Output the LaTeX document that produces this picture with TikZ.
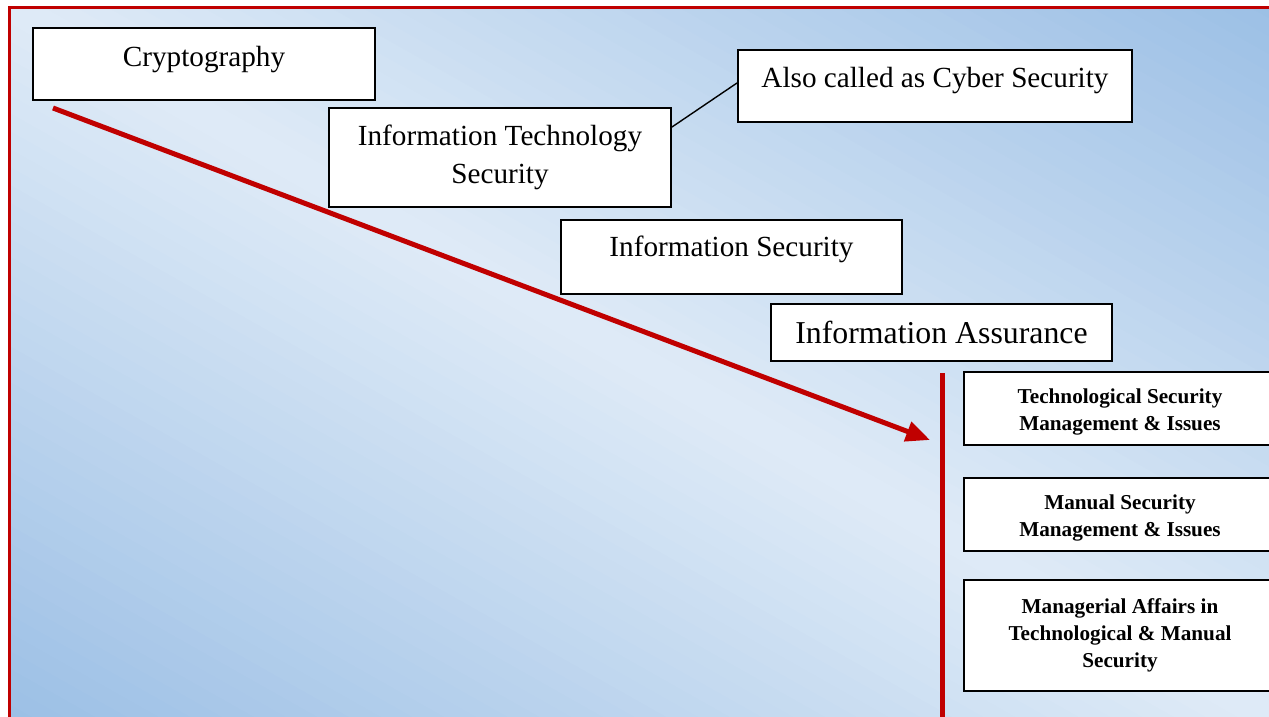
\documentclass[tikz,border=0pt]{standalone}
\usepackage{fontspec}
\setmainfont{Liberation Serif}
\usetikzlibrary{arrows.meta,calc}
\definecolor{dkred}{HTML}{C00000}
\definecolor{bgdark}{HTML}{9BBFE5}
\definecolor{bglight}{HTML}{DFEBF7}
\begin{document}
\begin{tikzpicture}[x=0.5pt,y=-0.5pt,
  box/.style={draw=black,line width=1pt,fill=white,inner sep=0pt,align=center},
  onebox/.style={draw=black,line width=1pt,fill=white,inner sep=0pt},
  normtxt/.style={font=\fontsize{14.6}{18.8}\selectfont},
  boldtxt/.style={font=\bfseries\fontsize{10.6}{13.6}\selectfont},
  redline/.style={draw=dkred,line width=2.5pt}]
\useasboundingbox (0,0) rectangle (1269,717);
\clip (0,0) rectangle (1269,717);
\fill[white] (0,0) rectangle (1269,717);
\begin{scope}
\clip (9,8) rectangle (1269,717);
\foreach \i in {-40,...,39}{
  \pgfmathsetmacro\sa{\i/40}
  \pgfmathsetmacro\sb{\sa+0.027}
  \pgfmathsetmacro\sc{\sa+1}
  \pgfmathsetmacro\sd{\sb+1}
  \pgfmathsetmacro\m{100*(1-abs(\sa+0.0125))}
  \fill[bglight!\m!bgdark] (\sa*1269,0) -- (\sb*1269,0) -- (\sd*1269,717) -- (\sc*1269,717) -- cycle;
}
\end{scope}
\draw[dkred,line width=1.5pt] (9,730) -- (9,8) -- (1280,8);

\node[onebox,normtxt,minimum width=171pt,minimum height=36pt,text height=7pt,text depth=4pt] (crypto) at (204,64) {Cryptography};
\node[onebox,normtxt,minimum width=197pt,minimum height=36pt,text height=7pt,text depth=5.7pt] (also) at (935,86) {Also called as Cyber Security};
\node[box,normtxt,minimum width=171pt,minimum height=49.5pt] (it) at (500,157.5) {Information Technology\\Security};
\node[onebox,normtxt,minimum width=170.5pt,minimum height=37pt,text height=7pt,text depth=7.5pt] (infosec) at (731.5,257) {Information Security};
\node[onebox,font=\fontsize{15.9}{19}\selectfont,minimum width=170.5pt,minimum height=28.5pt] (assur) at (941.5,332.5) {Information Assurance};
\node[onebox,boldtxt,minimum width=156pt,minimum height=36.5pt,text height=8pt,text depth=13.5pt] (tech) at (1120,408.5) {\parbox[t]{150pt}{\centering Technological Security\\Management \& Issues}};
\node[onebox,boldtxt,minimum width=156pt,minimum height=36.5pt,text height=8pt,text depth=13.5pt] (manual) at (1120,514.5) {\parbox[t]{150pt}{\centering Manual Security\\Management \& Issues}};
\node[box,boldtxt,minimum width=156pt,minimum height=55.5pt] (manag) at (1120,635.5) {Managerial Affairs in\\Technological \& Manual\\Security};

\draw[black,line width=0.7pt] ($(it.north east)+(0,20)$) -- ($(also.west)+(0,-3)$);

\coordinate (as) at (53,108);
\coordinate (ae) at (930,440);
\draw[redline,-{Triangle[length=12pt,width=10pt]}] (as) -- (ae);
\coordinate (vt) at (942,373);
\coordinate (vb) at (942,725);
\draw[redline] (vt) -- (vb);
\end{tikzpicture}
\end{document}
